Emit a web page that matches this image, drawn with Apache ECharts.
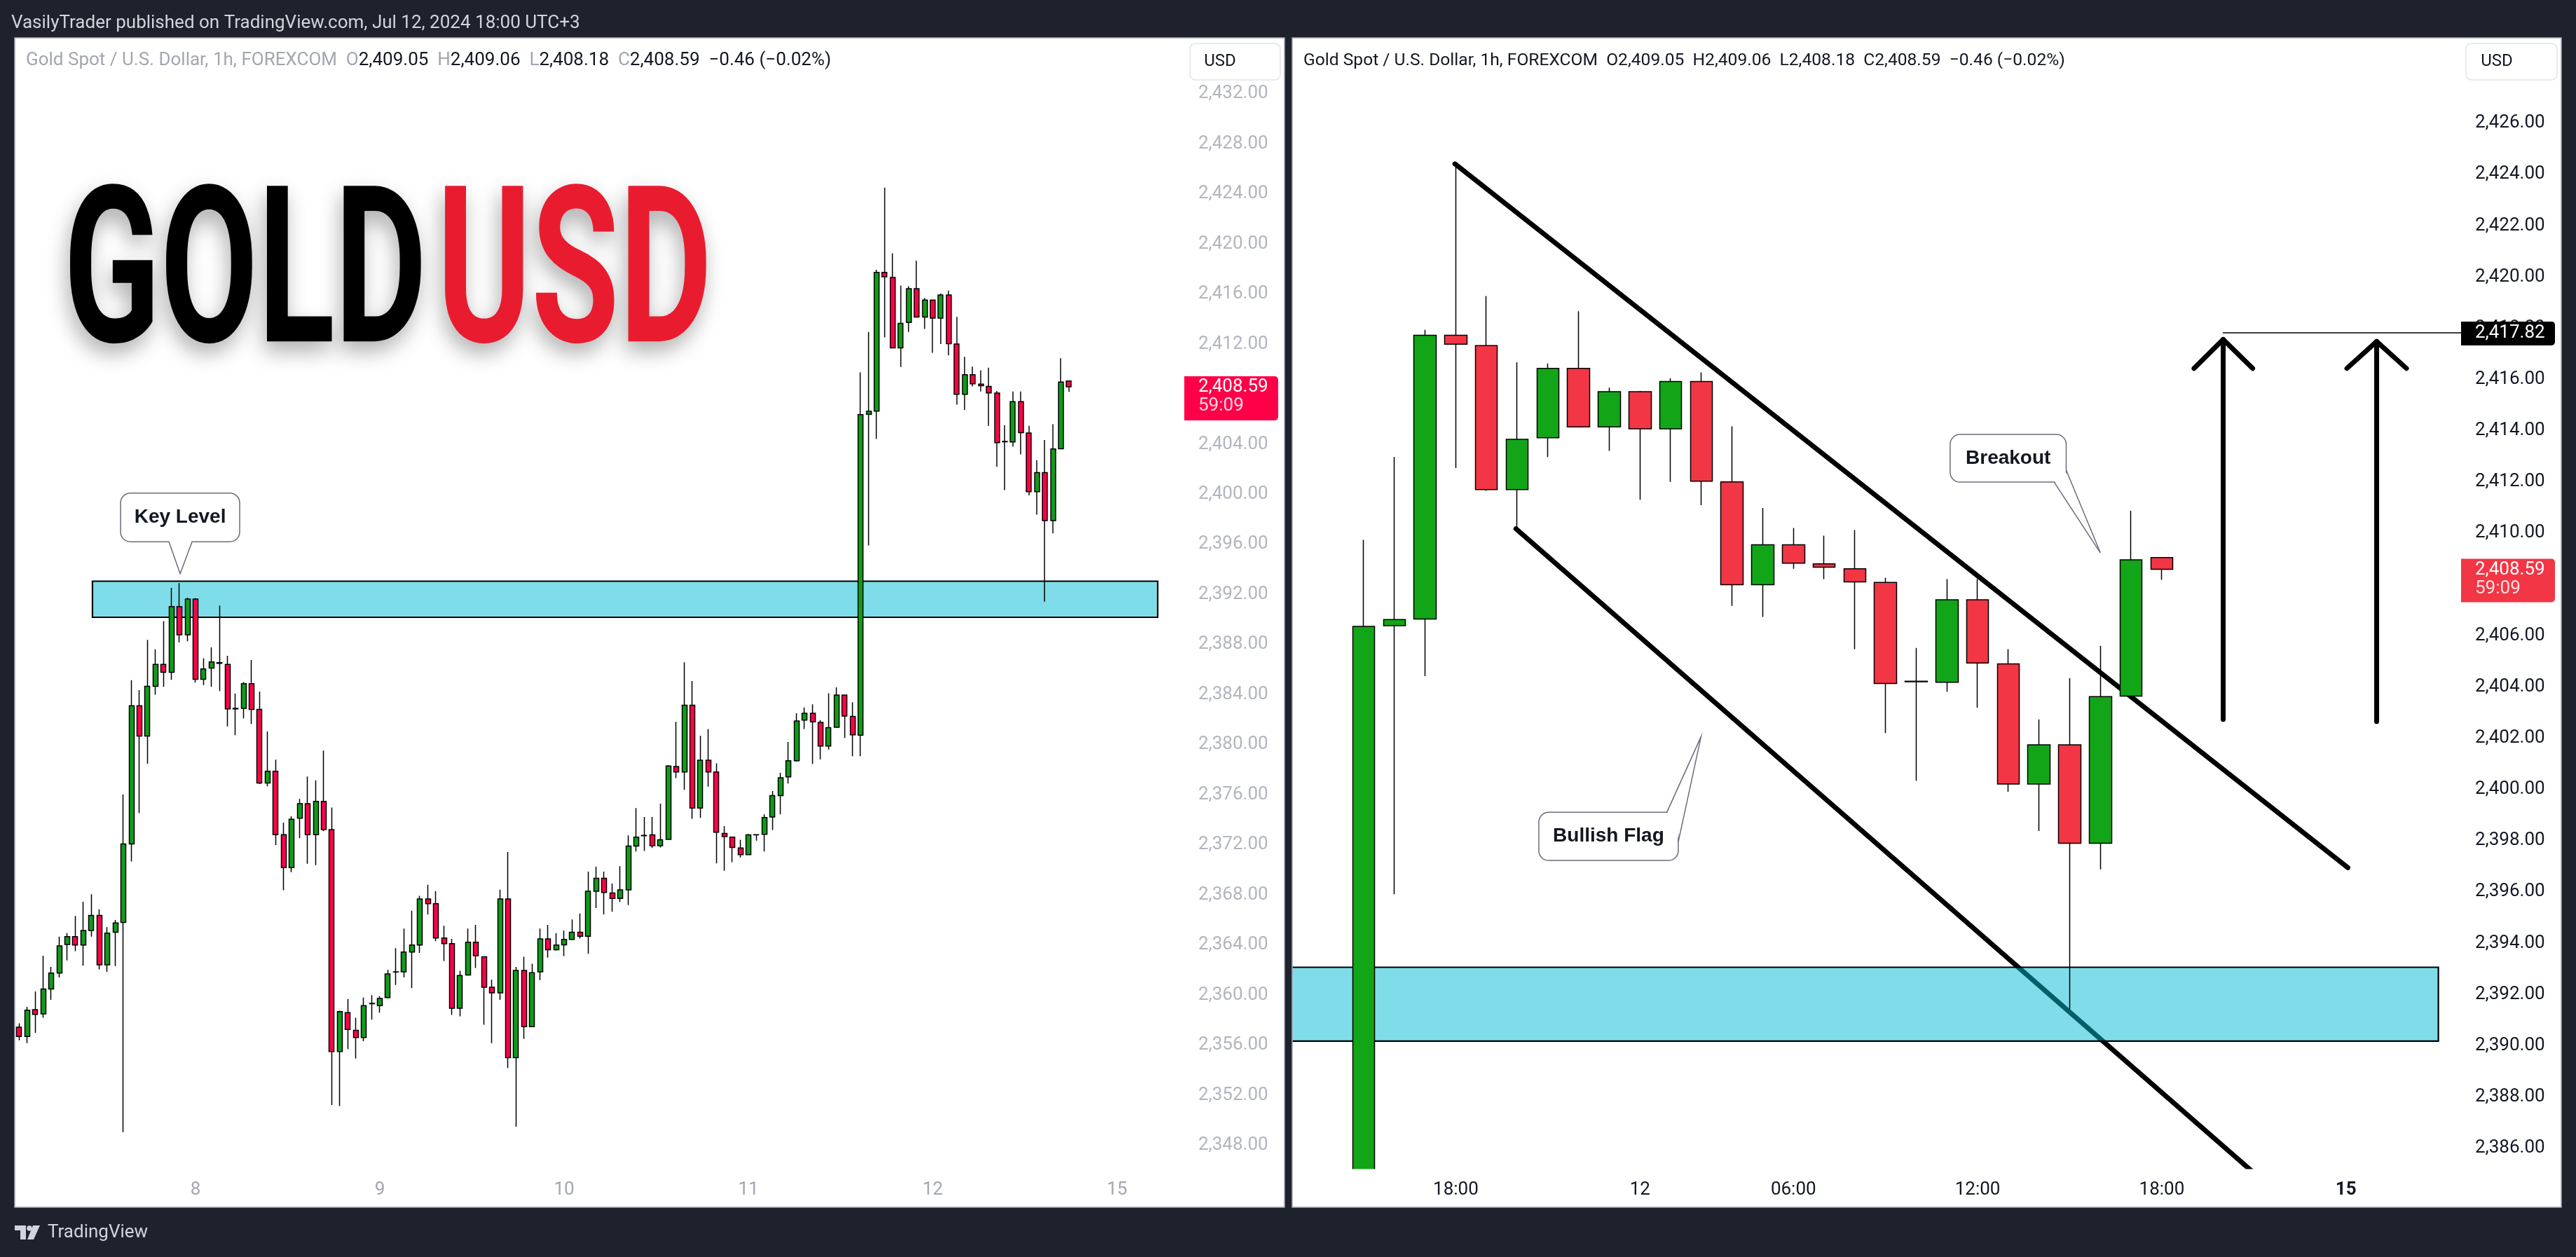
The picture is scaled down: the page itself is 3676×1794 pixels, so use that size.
<!DOCTYPE html>
<html><head><meta charset="utf-8">
<script src="https://cdn.jsdelivr.net/npm/echarts@6/dist/echarts.min.js"></script>
<style>html,body{margin:0;padding:0;background:#1e222d;}#c{width:3676px;height:1794px;}</style>
</head><body><div id="c"></div>
<script>
// ---------- DATA ----------
// Hourly XAUUSD bars [open, close, low, high], Jul 5 01:00 -> Jul 11 14:00 (UTC+3)
const barsJul5to11 = [
[2357.30,2357.50,2356.90,2357.80],[2357.45,2356.70,2356.40,2357.75],[2356.70,2358.80,2356.17,2359.06],
[2358.84,2358.46,2357.00,2360.30],[2358.50,2360.49,2358.20,2363.15],[2360.49,2361.76,2359.62,2362.25],
[2361.76,2363.93,2361.42,2364.68],[2364.05,2364.68,2362.77,2364.95],[2364.68,2364.01,2363.52,2366.33],
[2364.01,2365.17,2362.36,2367.46],[2365.17,2366.37,2364.68,2368.06],[2366.37,2362.43,2362.06,2366.86],
[2362.43,2364.95,2361.87,2365.43],[2365.02,2365.77,2362.32,2366.00],[2365.81,2372.07,2349.06,2376.04],
[2372.07,2383.12,2370.68,2385.15],[2383.12,2380.69,2374.54,2384.36],[2380.69,2384.66,2378.48,2388.37],
[2384.66,2386.42,2383.99,2387.62],[2386.42,2385.78,2384.62,2389.87],[2385.78,2391.03,2385.18,2392.53],
[2391.03,2388.78,2388.18,2392.91],[2388.78,2391.63,2388.26,2391.74],[2391.63,2385.22,2384.96,2391.70],
[2385.22,2386.05,2384.77,2386.91],[2386.12,2386.61,2384.62,2387.77],[2386.55,2386.50,2384.29,2391.11],
[2386.42,2382.86,2381.47,2387.10],[2382.86,2382.90,2380.76,2384.10],[2382.90,2384.88,2382.11,2385.00],
[2384.88,2382.82,2381.66,2386.76],[2382.82,2376.94,2376.86,2384.25],[2376.94,2377.88,2376.68,2381.06],
[2377.88,2372.82,2371.99,2378.81],[2372.82,2370.19,2368.39,2373.79],[2370.19,2374.05,2369.82,2374.28],
[2374.13,2375.29,2372.55,2375.67],[2375.29,2372.82,2370.49,2377.46],[2372.82,2375.48,2370.38,2377.16],
[2375.48,2373.23,2373.10,2379.53],[2373.23,2355.50,2351.23,2374.99],[2355.50,2358.69,2351.15,2358.76],
[2358.61,2357.26,2355.69,2359.70],[2357.19,2356.62,2354.94,2358.20],[2356.62,2359.17,2356.32,2359.81],
[2359.32,2359.35,2358.05,2360.00],[2359.17,2359.74,2358.61,2359.92],[2359.81,2361.69,2359.74,2362.02],
[2361.85,2361.87,2360.82,2363.75],[2361.87,2363.45,2361.42,2365.32],[2363.45,2364.01,2360.56,2366.74],
[2364.01,2367.68,2363.37,2367.94],[2367.68,2367.31,2366.44,2368.81],[2367.31,2364.57,2364.31,2368.32],
[2364.57,2364.12,2362.73,2365.55],[2364.12,2358.95,2358.42,2364.50],[2358.95,2361.57,2358.31,2361.95],
[2361.61,2364.23,2361.55,2365.32],[2364.23,2363.15,2362.17,2365.62],[2363.07,2360.64,2357.64,2363.10],
[2360.64,2360.19,2356.17,2361.23],[2360.19,2367.68,2359.62,2368.43],[2367.68,2355.01,2354.19,2371.43],
[2355.01,2361.98,2349.50,2362.25],[2361.98,2357.49,2356.51,2363.07],[2357.49,2361.80,2357.45,2362.51],
[2361.87,2364.50,2361.20,2365.32],[2364.50,2363.63,2363.00,2365.62],[2363.63,2364.01,2363.56,2364.95],
[2364.02,2364.45,2363.13,2365.16],[2364.45,2365.02,2364.40,2366.05],[2365.02,2364.70,2364.52,2366.52],
[2364.70,2368.30,2363.31,2369.87],[2368.30,2369.34,2366.95,2370.26],[2369.34,2368.20,2366.45,2369.87],
[2368.16,2367.73,2366.66,2368.91],[2367.73,2368.41,2367.45,2370.30],[2368.41,2371.91,2367.20,2372.76],
[2371.91,2372.62,2371.48,2374.94],[2372.73,2372.76,2371.51,2374.23],[2372.80,2371.94,2371.76,2374.23],
[2371.94,2372.41,2371.80,2375.30],[2372.44,2378.30,2372.40,2378.37],[2378.26,2377.83,2377.33,2381.83],
[2377.83,2383.15,2376.40,2386.58],[2383.15,2374.94,2374.08,2385.08],[2374.94,2378.76,2374.16,2380.72],
[2378.76,2377.83,2376.65,2381.26],[2377.83,2373.01,2370.52,2378.51],[2372.91,2372.66,2369.94,2373.51],
[2372.62,2371.80,2370.62,2372.65],[2371.76,2371.23,2370.98,2372.41],[2371.23,2372.80,2371.20,2372.87],
[2372.80,2372.82,2372.34,2372.85],[2372.84,2374.19,2371.48,2374.44],[2374.23,2375.94,2373.19,2376.30],
[2375.94,2377.37,2374.44,2377.76],[2377.44,2378.72,2376.90,2380.22],[2378.72,2381.90,2378.65,2382.51],
[2381.97,2382.51,2381.26,2382.97],[2382.51,2381.83,2378.47,2383.22],[2381.79,2379.90,2378.83,2381.97],
[2379.90,2381.36,2379.62,2384.11],[2381.40,2383.97,2381.35,2384.58],[2383.97,2382.29,2380.54,2384.00],
[2382.26,2380.79,2379.08,2383.40]
];
// Jul 11 15:00 -> Jul 12 18:00
const barsJul11to12 = [
[2380.77,2406.36,2379.09,2409.74],[2406.39,2406.63,2395.91,2412.97],[2406.65,2417.72,2404.42,2417.93],
[2417.72,2417.37,2412.54,2424.49],[2417.32,2411.70,2411.65,2419.25],[2411.70,2413.66,2410.17,2416.67],
[2413.72,2416.43,2412.97,2416.62],[2416.43,2414.15,2414.12,2418.66],[2414.15,2415.52,2413.21,2415.68],
[2415.52,2414.07,2411.30,2415.55],[2414.07,2415.92,2412.00,2416.05],[2415.92,2412.03,2411.09,2416.27],
[2412.00,2407.99,2407.16,2414.17],[2407.99,2409.55,2406.73,2410.98],[2409.55,2408.83,2408.61,2410.20],
[2408.80,2408.67,2408.21,2409.90],[2408.61,2408.10,2405.47,2410.12],[2408.08,2404.13,2402.20,2408.26],
[2404.22,2404.20,2400.34,2405.52],[2404.18,2407.40,2403.81,2408.21],[2407.40,2404.93,2403.19,2408.21],
[2404.90,2400.21,2399.91,2405.47],[2400.21,2401.74,2398.38,2402.73],[2401.74,2397.90,2391.42,2404.34],
[2397.90,2403.62,2396.88,2405.60],[2403.64,2408.96,2403.60,2410.87],[2409.05,2408.59,2408.18,2409.06]
];
const leftDayTicks = [23, 46, 69, 92, 115, 138];
const leftDayLabels = ['8', '9', '10', '11', '12', '15'];
const rightTimeTicks = [3, 9, 14, 20, 26, 32];
const rightTimeLabels = ['18:00', '12', '06:00', '12:00', '18:00', '15'];
const leftPriceTicks = [2348,2352,2356,2360,2364,2368,2372,2376,2380,2384,2388,2392,2396,2400,2404,2408,2412,2416,2420,2424,2428,2432];
const rightPriceTicks = [2386,2388,2390,2392,2394,2396,2398,2400,2402,2404,2406,2408,2410,2412,2414,2416,2418,2420,2422,2424,2426];
const keyZone = [2390.18, 2393.06];
const lastPrice = 2408.59;
const targetPrice = 2417.82;
const legendValues = {O:'2,409.05', H:'2,409.06', L:'2,408.18', C:'2,408.59', chg:'\u22120.46 (\u22120.02%)'};

// ---------- BUILD ----------
const allBars = barsJul5to11.concat(barsJul11to12);
const firstRightIdx = barsJul5to11.length; // 106
const leftRows = allBars.map((b, i) => [i, b[0], b[1], b[2], b[3]]);
const rightRows = allBars.map((b, i) => [i - firstRightIdx, b[0], b[1], b[2], b[3]]).filter(r => r[0] >= -3);

const fmt = v => Number(v).toLocaleString('en-US', {minimumFractionDigits: 2, maximumFractionDigits: 2});
const FONT = 'Roboto, "Liberation Sans", Arial, sans-serif';

function boxSeries(xi, yi, x1, x2) {
  return {
    type: 'custom', xAxisIndex: xi, yAxisIndex: yi, z: 2, silent: true,
    data: [[x1, x2, keyZone[1], keyZone[0]]],
    encode: {x: [0, 1], y: [2, 3]},
    renderItem: (params, api) => {
      const a = api.coord([api.value(0), api.value(2)]);
      const b = api.coord([api.value(1), api.value(3)]);
      return {type: 'rect', shape: {x: a[0], y: a[1], width: b[0] - a[0], height: b[1] - a[1]},
        style: {fill: 'rgba(0,188,212,0.5)', stroke: '#000', lineWidth: 2.2}};
    }
  };
}
function lineSeries(xi, yi, pts, width, z) {
  return {type: 'line', xAxisIndex: xi, yAxisIndex: yi, data: pts, symbol: 'none', z: z, silent: true,
    lineStyle: {color: '#000', width: width, cap: 'round', join: 'round'}};
}

const axisCommon = {axisLine: {show: false}, axisTick: {show: false}, splitLine: {show: false}, z: 10};

const option = {
  animation: false,
  backgroundColor: '#ffffff',
  grid: [
    {left: 21, top: 55, width: 1669, height: 1613},
    {left: 1844, top: 55, width: 1668, height: 1613}
  ],
  xAxis: [
    Object.assign({gridIndex: 0, type: 'value', min: 0.437, max: 146.39,
      axisLabel: {customValues: leftDayTicks, formatter: v => leftDayLabels[leftDayTicks.indexOf(v)],
        color: '#a3a6af', fontSize: 26, fontFamily: FONT, margin: 17}}, axisCommon),
    Object.assign({gridIndex: 1, type: 'value', min: -2.329, max: 35.75,
      axisLabel: {customValues: rightTimeTicks,
        formatter: v => { const s = rightTimeLabels[rightTimeTicks.indexOf(v)]; return s === '15' ? '{b|15}' : s; },
        rich: {b: {fontWeight: 'bold', fontSize: 26, fontFamily: FONT, color: '#131722'}},
        color: '#131722', fontSize: 26, fontFamily: FONT, margin: 17}}, axisCommon)
  ],
  yAxis: [
    Object.assign({gridIndex: 0, type: 'value', position: 'right', min: 2346.14, max: 2436.40,
      axisLabel: {customValues: leftPriceTicks, formatter: fmt, align: 'left', margin: 20,
        color: '#b2b5be', fontSize: 26, fontFamily: FONT}}, axisCommon),
    Object.assign({gridIndex: 1, type: 'value', position: 'right', min: 2385.20, max: 2429.30,
      axisLabel: {customValues: rightPriceTicks, formatter: fmt, align: 'left', margin: 20,
        color: '#131722', fontSize: 26, fontFamily: FONT}}, axisCommon)
  ],
  series: [
    boxSeries(0, 0, 10.14, 143.07),
    {type: 'candlestick', xAxisIndex: 0, yAxisIndex: 0, data: leftRows, encode: {x: 0, y: [1, 2, 3, 4]},
      barWidth: 7.5, clip: true, z: 3, silent: true,
      itemStyle: {color: '#109c1a', color0: '#ff0048', borderColor: '#000', borderColor0: '#000', borderColorDoji: '#000', borderWidth: 1.5}},
    // right panel drawings
    lineSeries(1, 1, [[2.97, 2424.41], [32.06, 2396.95]], 7, 1),
    lineSeries(1, 1, [[4.96, 2410.17], [30.0, 2383.99]], 7, 1),
    boxSeries(1, 1, -2.5, 35.01),
    {type: 'candlestick', xAxisIndex: 1, yAxisIndex: 1, data: rightRows, encode: {x: 0, y: [1, 2, 3, 4]},
      barWidth: 32, clip: true, z: 3, silent: true,
      itemStyle: {color: '#13a518', color0: '#f23645', borderColor: '#000', borderColor0: '#000', borderColorDoji: '#000', borderWidth: 1.5}},
    lineSeries(1, 1, [[28, 2402.73], [28, 2417.56]], 7, 4),
    lineSeries(1, 1, [[27.05, 2416.43], [28, 2417.56], [28.96, 2416.43]], 7, 4),
    lineSeries(1, 1, [[33, 2402.65], [33, 2417.48]], 7, 4),
    lineSeries(1, 1, [[32.03, 2416.43], [33, 2417.48], [33.97, 2416.43]], 7, 4),
    lineSeries(1, 1, [[28, targetPrice], [35.75, targetPrice]], 1.5, 4)
  ]
};

const chart = echarts.init(document.getElementById('c'), null, {renderer: 'canvas', width: 3676, height: 1794});
chart.setOption(option);

const px = (g, x, y) => chart.convertToPixel({gridIndex: g}, [x, y]);
const mctx = document.createElement('canvas').getContext('2d');

const G = [];
// white cover under the plots (hides candle parts below the plot bottom, beneath the time labels)
G.push({type: 'rect', z: 5, shape: {x: 21, y: 1668.5, width: 3634, height: 56}, style: {fill: '#ffffff'}});
// dark frame
const DARK = '#1e222d';
[[0, 0, 3676, 54], [0, 1723, 3676, 71], [0, 0, 21, 1794], [1833, 0, 11, 1794], [3655, 0, 21, 1794]].forEach(r =>
  G.push({type: 'rect', z: 100, shape: {x: r[0], y: r[1], width: r[2], height: r[3]}, style: {fill: DARK}}));
G.push({type: 'rect', z: 101, shape: {x: 21, y: 54, width: 1812, height: 1669}, style: {fill: null, stroke: '#a6a9b1', lineWidth: 1.5}});
G.push({type: 'rect', z: 101, shape: {x: 1844, y: 54, width: 1811, height: 1669}, style: {fill: null, stroke: '#a6a9b1', lineWidth: 1.5}});

// header
G.push({type: 'text', z: 102, x: 16, y: 33, style: {text: 'VasilyTrader published on TradingView.com, Jul 12, 2024 18:00 UTC+3',
  font: '26px ' + FONT, fill: '#d1d4dc', align: 'left', verticalAlign: 'middle', textAlign: 'left', textVerticalAlign: 'middle'}});
// footer logo
G.push({type: 'polygon', z: 102, shape: {points: [[21, 1749], [37, 1749], [37, 1769], [29, 1769], [29, 1756], [21, 1756]]}, style: {fill: '#d1d4dc'}});
G.push({type: 'circle', z: 102, shape: {cx: 42, cy: 1753, r: 3.8}, style: {fill: '#d1d4dc'}});
G.push({type: 'polygon', z: 102, shape: {points: [[47, 1749], [57, 1749], [48, 1769], [39, 1769]]}, style: {fill: '#d1d4dc'}});
G.push({type: 'text', z: 102, x: 68, y: 1759, style: {text: 'TradingView', font: '26px ' + FONT, fill: '#d1d4dc',
  align: 'left', verticalAlign: 'middle', textAlign: 'left', textVerticalAlign: 'middle'}});

// legends
function legend(x, y, titleColor, keyColor, size) {
  const v = legendValues;
  const f = size + 'px ' + FONT;
  const text = '{t|Gold Spot / U.S. Dollar, 1h, FOREXCOM}  {k|O}{v|' + v.O + '}  {k|H}{v|' + v.H + '}  {k|L}{v|' + v.L + '}  {k|C}{v|' + v.C + '}  {v|' + v.chg + '}';
  return {type: 'text', z: 50, x: x, y: y, style: {text: text, font: f, fill: '#131722',
    align: 'left', verticalAlign: 'middle', textAlign: 'left', textVerticalAlign: 'middle',
    rich: {t: {fill: titleColor, color: titleColor, font: f}, k: {fill: keyColor, color: keyColor, font: f},
           v: {fill: '#131722', color: '#131722', font: f}}}};
}
G.push(legend(37, 86, '#a3a6af', '#a3a6af', 26));
G.push(legend(1860, 87, '#131722', '#131722', 24.6));

// USD boxes
[[1698, 129, 1741], [3519, 130, 3563]].forEach(b => {
  G.push({type: 'rect', z: 50, shape: {x: b[0], y: 62, width: b[1], height: 52, r: 8}, style: {fill: '#fff', stroke: '#e0e3eb', lineWidth: 1.5}});
  G.push({type: 'text', z: 51, x: b[2], y: 88, style: {text: 'USD', font: '24px ' + FONT, fill: '#131722',
    align: 'center', verticalAlign: 'middle', textAlign: 'center', textVerticalAlign: 'middle'}});
});

// price tags
function tag(g, axisX, price, color, top, bottom, line2) {
  const y = px(g, 0, price)[1];
  G.push({type: 'rect', z: 90, shape: {x: axisX, y: y + top, width: 134, height: bottom - top, r: [0, 5, 5, 0]}, style: {fill: color}});
  G.push({type: 'text', z: 91, x: axisX + 20, y: y + 1, style: {text: fmt(price), font: '26px ' + FONT, fill: '#fff',
    align: 'left', verticalAlign: 'middle', textAlign: 'left', textVerticalAlign: 'middle'}});
  if (line2) G.push({type: 'text', z: 91, x: axisX + 20, y: y + 28, style: {text: line2, font: '26px ' + FONT, fill: 'rgba(255,255,255,0.85)',
    align: 'left', verticalAlign: 'middle', textAlign: 'left', textVerticalAlign: 'middle'}});
}
tag(0, 1690, lastPrice, '#ff0048', -15, 48, '59:09');
tag(1, 3512, lastPrice, '#f23645', -15, 47, '59:09');
tag(1, 3512, targetPrice, '#000000', -16, 18, null);

// callouts
function callout(g, tip, box, p1, p2, poly, text) {
  const t = px(g, tip[0], tip[1]);
  const tx = t[0], ty = t[1];
  const bx = tx + box[0], by = ty + box[1], bw = box[2] - box[0], bh = box[3] - box[1];
  G.push({type: 'rect', z: 60, shape: {x: bx, y: by, width: bw, height: bh, r: 14}, style: {fill: '#fff', stroke: '#6a6d78', lineWidth: 1.5}});
  G.push({type: 'polygon', z: 61, shape: {points: poly.map(p => [tx + p[0], ty + p[1]])}, style: {fill: '#fff'}});
  G.push({type: 'polyline', z: 62, shape: {points: [[tx + p1[0], ty + p1[1]], [tx, ty], [tx + p2[0], ty + p2[1]]]}, style: {fill: null, stroke: '#6a6d78', lineWidth: 1.5}});
  G.push({type: 'text', z: 63, x: bx + bw / 2, y: by + bh / 2, style: {text: text, font: 'bold 28px "Liberation Sans", Arial, sans-serif', fill: '#131722',
    align: 'center', verticalAlign: 'middle', textAlign: 'center', textVerticalAlign: 'middle'}});
}
callout(0, [21.08, 2393.66], [-85, -115, 85, -45.6], [-16, -45.6], [17, -45.6], [[-16, -48], [0, 0], [17, -48]], 'Key Level');
callout(1, [10.99, 2402.06], [-231.5, 108, -32.5, 176.7], [-48.8, 108], [-32.5, 150.3], [[-48.8, 110], [0, 0], [-34.5, 150.3], [-48.8, 150.3]], 'Bullish Flag');
callout(1, [24.0, 2409.23], [-214.4, -169, -48.8, -101], [-66, -101], [-48.8, -118], [[-66, -103], [0, 0], [-50.8, -118], [-66, -118]], 'Breakout');

// big GOLD USD title
function bigWord(word, left, right, top, bottom, color) {
  const fam = 'Roboto';
  mctx.textBaseline = 'middle';
  let fs = 330;
  mctx.font = 'bold ' + fs + 'px ' + fam;
  let m = mctx.measureText(word);
  fs = fs * (bottom - top) / (m.actualBoundingBoxAscent + m.actualBoundingBoxDescent);
  const font = 'bold ' + fs.toFixed(1) + 'px ' + fam;
  mctx.font = font;
  m = mctx.measureText(word);
  const sx = (right - left) / (m.actualBoundingBoxLeft + m.actualBoundingBoxRight);
  G.push({type: 'text', z: 40, x: left + m.actualBoundingBoxLeft * sx, y: top + m.actualBoundingBoxAscent, scaleX: sx,
    style: {text: word, font: font, fill: color, align: 'left', verticalAlign: 'middle', textAlign: 'left', textVerticalAlign: 'middle',
      textShadowBlur: 30, textShadowColor: 'rgba(0,0,0,0.32)', textShadowOffsetX: -4, textShadowOffsetY: 14}});
}
bigWord('GOLD', 97, 601, 258, 492, '#000000');
bigWord('USD', 633, 1008, 258, 492, '#e91c2f');

chart.setOption({graphic: {elements: G}});
</script></body></html>
